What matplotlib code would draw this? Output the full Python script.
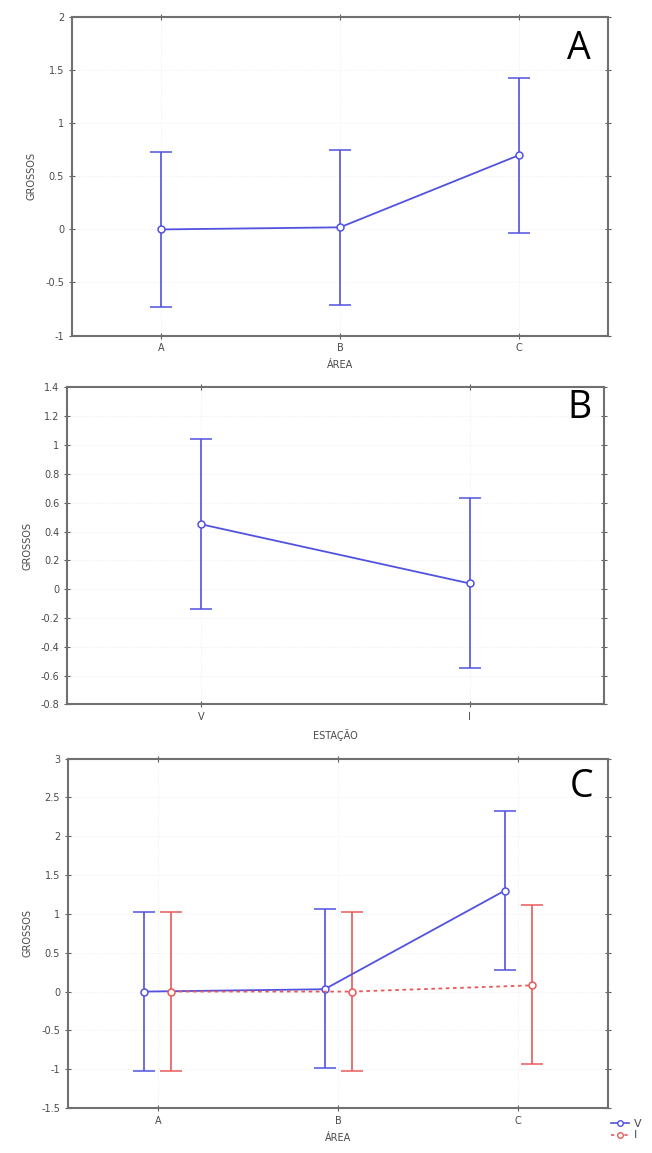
import matplotlib
matplotlib.use("Agg")
import matplotlib.pyplot as plt
from matplotlib.lines import Line2D
import numpy as np

# ---- data ----
area_cats = ["A", "B", "C"]
a_mean = [0.0, 0.02, 0.70]
a_low = [-0.73, -0.71, -0.03]
a_high = [0.73, 0.75, 1.43]

est_cats = ["V", "I"]
b_mean = [0.45, 0.04]
b_low = [-0.14, -0.55]
b_high = [1.04, 0.63]

c_v_mean = [0.0, 0.03, 1.30]
c_v_low = [-1.02, -0.98, 0.28]
c_v_high = [1.03, 1.06, 2.33]
c_i_mean = [0.0, 0.0, 0.08]
c_i_low = [-1.02, -1.02, -0.93]
c_i_high = [1.03, 1.03, 1.11]
series_names = ["V", "I"]

a_yticks = [-1, -0.5, 0, 0.5, 1, 1.5, 2]
a_ylabels = ["-1", "-0.5", "0", "0.5", "1", "1.5", "2"]
b_yticks = [-0.8, -0.6, -0.4, -0.2, 0, 0.2, 0.4, 0.6, 0.8, 1, 1.2, 1.4]
b_ylabels = ["-0.8", "-0.6", "-0.4", "-0.2", "0", "0.2", "0.4", "0.6", "0.8", "1", "1.2", "1.4"]
c_yticks = [-1.5, -1, -0.5, 0, 0.5, 1, 1.5, 2, 2.5, 3]
c_ylabels = ["-1.5", "-1", "-0.5", "0", "0.5", "1", "1.5", "2", "2.5", "3"]

BLUE = "#5252e0"
RED = "#e85a5a"
TXT = "#4a4a4a"

fig = plt.figure(figsize=(6.52, 11.53), dpi=100)
plt.rcParams['font.family'] = ['DejaVu Sans']


def style(ax, yticks, ylabels, cats, xlabel):
    ax.set_xticks(range(len(cats)))
    ax.set_xticklabels(cats)
    ax.set_yticks(yticks)
    ax.set_yticklabels(ylabels)
    ax.set_xlim(-0.5, len(cats) - 0.5)
    ax.set_ylim(yticks[0], yticks[-1])
    ax.tick_params(direction="inout", length=4, width=0.8, colors="#606060",
                   labelcolor=TXT, labelsize=7, top=True, right=True)
    for s in ax.spines.values():
        s.set_color("#707070")
        s.set_linewidth(1.5)
    ax.grid(True, color="#ececec", lw=0.6, ls=":")
    ax.set_axisbelow(True)
    ax.set_ylabel("GROSSOS", fontsize=7, color=TXT, labelpad=6)
    ax.set_xlabel(xlabel, fontsize=7, color=TXT, labelpad=5)


def errplot(ax, x, m, lo, hi, color, ls="-"):
    x = np.asarray(x, float)
    m = np.asarray(m)
    yerr = [m - np.asarray(lo), np.asarray(hi) - m]
    ax.errorbar(x, m, yerr=yerr, color=color, ls=ls, lw=1.3, capsize=8,
                elinewidth=1.2, capthick=1.2, marker="o", ms=5,
                mfc="white", mec=color, mew=1.1, zorder=3)


# Panel A
axA = fig.add_axes([0.110, 0.709, 0.823, 0.276])
errplot(axA, range(3), a_mean, a_low, a_high, BLUE)
style(axA, a_yticks, a_ylabels, area_cats, "ÁREA")
axA.text(0.945, 0.90, "A", transform=axA.transAxes, fontsize=27,
         ha="center", va="center", color="black", family="Open Sans")

# Panel B
axB = fig.add_axes([0.103, 0.389, 0.823, 0.275])
errplot(axB, range(2), b_mean, b_low, b_high, BLUE)
style(axB, b_yticks, b_ylabels, est_cats, "ESTAÇÃO")
axB.text(0.955, 0.935, "B", transform=axB.transAxes, fontsize=27,
         ha="center", va="center", color="black", family="Open Sans")

# Panel C
axC = fig.add_axes([0.104, 0.039, 0.829, 0.303])
off = 0.075
xs = np.arange(3)
errplot(axC, xs - off, c_v_mean, c_v_low, c_v_high, BLUE, "-")
errplot(axC, xs + off, c_i_mean, c_i_low, c_i_high, RED, (0, (2, 2)))
style(axC, c_yticks, c_ylabels, area_cats, "ÁREA")
axC.text(0.95, 0.92, "C", transform=axC.transAxes, fontsize=27,
         ha="center", va="center", color="black", family="Open Sans")

handles = [Line2D([0], [0], color=BLUE, marker="o", mfc="white", ms=4, lw=1.2),
           Line2D([0], [0], color=RED, marker="o", mfc="white", ms=4, lw=1.2, ls=(0, (2, 2)))]
fig.legend(handles, series_names, loc="lower left", bbox_to_anchor=(0.93, 0.007),
           frameon=False, fontsize=8, handlelength=1.6, handletextpad=0.5,
           labelspacing=0.15, labelcolor=TXT, borderaxespad=0)

fig.savefig("out.png", dpi=100, facecolor="white")
